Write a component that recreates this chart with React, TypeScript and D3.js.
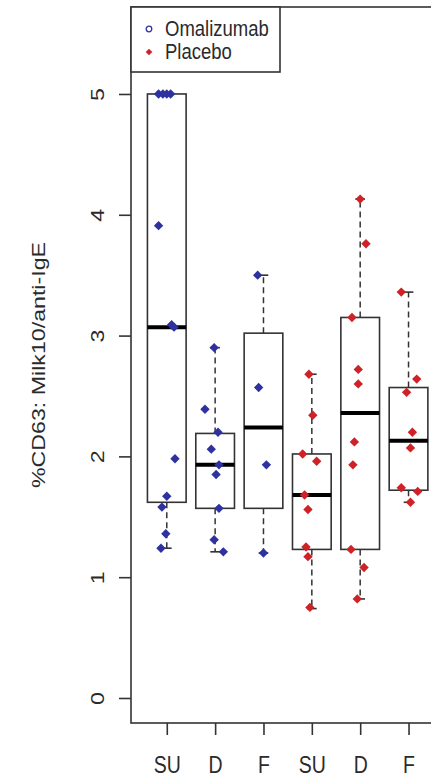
import React, { useEffect, useRef } from "react";
import * as d3 from "d3";

// group labels along x, and the treatment each box belongs to
const labels = ["SU", "D", "F", "SU", "D", "F"];
const treatment = ["Omalizumab", "Omalizumab", "Omalizumab", "Placebo", "Placebo", "Placebo"];

// box statistics
const whiskerLow = [1.24, 1.21, 1.2, 0.74, 0.82, 1.62];
const q1 = [1.62, 1.57, 1.57, 1.23, 1.23, 1.72];
const median = [3.07, 1.93, 2.24, 1.68, 2.36, 2.13];
const q3 = [5.0, 2.19, 3.02, 2.02, 3.15, 2.57];
const whiskerHigh = [5.0, 2.9, 3.5, 2.68, 4.13, 3.36];

// raw points per box
const pointValues = [
  [5.0, 5.0, 5.0, 5.0, 3.91, 3.09, 3.07, 1.98, 1.67, 1.58, 1.36, 1.24],
  [2.9, 2.39, 2.2, 2.06, 1.93, 1.85, 1.57, 1.31, 1.21],
  [3.5, 2.57, 1.93, 1.2],
  [2.68, 2.34, 2.02, 1.96, 1.68, 1.56, 1.25, 1.17, 0.75],
  [4.13, 3.76, 3.15, 2.72, 2.6, 2.12, 1.93, 1.23, 1.08, 0.82],
  [3.36, 2.64, 2.53, 2.2, 2.07, 1.74, 1.71, 1.62],
];
// horizontal jitter of each point, in group units
const pointJitter = [
  [-0.17, -0.08, 0.0, 0.08, -0.17, 0.1, 0.15, 0.17, 0.0, -0.1, -0.02, -0.12],
  [-0.02, -0.21, 0.06, -0.08, 0.08, 0.02, 0.08, -0.02, 0.17],
  [-0.12, -0.1, 0.06, 0.0],
  [-0.06, 0.02, -0.19, 0.1, -0.15, -0.08, -0.12, -0.08, -0.04],
  [0.0, 0.12, -0.17, -0.04, -0.04, -0.12, -0.15, -0.19, 0.08, -0.06],
  [-0.15, 0.17, -0.04, 0.08, 0.04, -0.15, 0.19, 0.04],
];

const yTicks = [0, 1, 2, 3, 4, 5];
const legendItems = ["Omalizumab", "Placebo"];

const width = 431;
const height = 777;
const colors = { Omalizumab: "#2d32a0", Placebo: "#cc2228" };
const ink = "#2a2a2a";
const font = "'Liberation Sans', Arial, sans-serif";
const stretch = 1.22; // the picture is a bit taller than it is wide

export default function App() {
  const ref = useRef<SVGSVGElement>(null);

  useEffect(() => {
    const svg = d3.select(ref.current);
    svg.selectAll("*").remove();

    const x = d3.scaleLinear().domain([0.26, 6.74]).range([131, 131 + 6.48 * 48.35]);
    const y = d3.scaleLinear().domain([-0.207, 5.72]).range([723, 7]);
    const [left] = x.range();
    const [bottom, top] = y.range();
    const unit = x(1) - x(0);

    // plot frame
    svg
      .append("rect")
      .attr("x", left)
      .attr("y", top)
      .attr("width", x.range()[1] - left)
      .attr("height", bottom - top)
      .attr("fill", "none")
      .attr("stroke", "#333")
      .attr("stroke-width", 1.6);

    // y axis
    svg
      .append("g")
      .attr("transform", `translate(${left},0)`)
      .style("color", "#333")
      .call(d3.axisLeft(y).tickValues(yTicks).tickSize(12).tickFormat(d3.format("d")))
      .call((g) => g.select(".domain").remove())
      .call((g) => g.selectAll("line").attr("stroke-width", 1.6))
      .selectAll("text")
      .attr("x", 0)
      .attr("dy", 0)
      .attr("text-anchor", "middle")
      .attr("transform", `translate(-27.5,0) rotate(-90) scale(${stretch},1)`)
      .attr("fill", ink)
      .attr("font-family", font)
      .attr("font-size", 19);

    // x axis
    svg
      .append("g")
      .attr("transform", `translate(0,${bottom})`)
      .style("color", "#333")
      .call(
        d3
          .axisBottom(x)
          .tickValues(labels.map((_, i) => i + 1))
          .tickSize(12)
          .tickFormat((d) => labels[+d - 1])
      )
      .call((g) => g.select(".domain").remove())
      .call((g) => g.selectAll("line").attr("stroke-width", 1.6))
      .selectAll("text")
      .attr("y", 0)
      .attr("dy", 0)
      .attr("transform", `translate(0,50) scale(1,${stretch})`)
      .attr("fill", ink)
      .attr("font-family", font)
      .attr("font-size", 19.5);

    // y axis title
    svg
      .append("text")
      .attr("transform", `translate(45,${(top + bottom) / 2}) rotate(-90) scale(${stretch},1)`)
      .attr("text-anchor", "middle")
      .attr("fill", ink)
      .attr("font-family", font)
      .attr("font-size", 19)
      .text("%CD63: Milk10/anti-IgE");

    // boxes
    const boxes = svg
      .append("g")
      .selectAll("g")
      .data(labels.map((_, i) => i))
      .enter()
      .append("g");

    const half = 0.4 * unit;
    const staple = 0.2 * unit;

    boxes
      .append("line")
      .attr("x1", (i) => x(i + 1))
      .attr("x2", (i) => x(i + 1))
      .attr("y1", (i) => y(q3[i]))
      .attr("y2", (i) => y(whiskerHigh[i]))
      .attr("stroke", "#333")
      .attr("stroke-width", 1.5)
      .attr("stroke-dasharray", "6,4");
    boxes
      .append("line")
      .attr("x1", (i) => x(i + 1))
      .attr("x2", (i) => x(i + 1))
      .attr("y1", (i) => y(q1[i]))
      .attr("y2", (i) => y(whiskerLow[i]))
      .attr("stroke", "#333")
      .attr("stroke-width", 1.5)
      .attr("stroke-dasharray", "6,4");
    boxes
      .selectAll(".staple")
      .data((i) => [
        [i, whiskerHigh[i]],
        [i, whiskerLow[i]],
      ])
      .enter()
      .append("line")
      .attr("class", "staple")
      .attr("x1", (d) => x(d[0] + 1) - staple / 2)
      .attr("x2", (d) => x(d[0] + 1) + staple / 2)
      .attr("y1", (d) => y(d[1]))
      .attr("y2", (d) => y(d[1]))
      .attr("stroke", "#333")
      .attr("stroke-width", 1.6);
    boxes
      .append("rect")
      .attr("x", (i) => x(i + 1) - half)
      .attr("width", 2 * half)
      .attr("y", (i) => y(q3[i]))
      .attr("height", (i) => y(q1[i]) - y(q3[i]))
      .attr("fill", "white")
      .attr("stroke", "#333")
      .attr("stroke-width", 1.6);
    boxes
      .append("line")
      .attr("x1", (i) => x(i + 1) - half)
      .attr("x2", (i) => x(i + 1) + half)
      .attr("y1", (i) => y(median[i]))
      .attr("y2", (i) => y(median[i]))
      .attr("stroke", "#000")
      .attr("stroke-width", 4);

    // jittered points on top
    const diamond = d3.symbol(d3.symbolSquare, 44);
    const pts = pointValues.flatMap((vals, i) =>
      vals.map((v, j) => ({ i, v, dx: pointJitter[i][j] }))
    );
    svg
      .append("g")
      .selectAll("path")
      .data(pts)
      .enter()
      .append("path")
      .attr("d", diamond())
      .attr("transform", (d) => `translate(${x(d.i + 1 + d.dx)},${y(d.v)}) rotate(45)`)
      .attr("fill", (d) => colors[treatment[d.i] as keyof typeof colors]);

    // legend
    const lg = svg.append("g").attr("transform", `translate(${left},${top})`);
    lg.append("rect")
      .attr("width", 149)
      .attr("height", 65)
      .attr("fill", "white")
      .attr("stroke", "#333")
      .attr("stroke-width", 1.6);
    const row = lg
      .selectAll(".item")
      .data(legendItems)
      .enter()
      .append("g")
      .attr("class", "item")
      .attr("transform", (_, k) => `translate(0,${22 + k * 23})`);
    row
      .filter((d) => d === "Omalizumab")
      .append("circle")
      .attr("cx", 18)
      .attr("r", 2.8)
      .attr("fill", "none")
      .attr("stroke", colors.Omalizumab)
      .attr("stroke-width", 1.3);
    row
      .filter((d) => d === "Placebo")
      .append("path")
      .attr("d", d3.symbol(d3.symbolSquare, 22)())
      .attr("transform", "translate(18,0) rotate(45)")
      .attr("fill", colors.Placebo);
    row
      .append("text")
      .attr("transform", `translate(34,6.5) scale(1,${stretch})`)
      .attr("fill", ink)
      .attr("font-family", font)
      .attr("font-size", 18.5)
      .text((d) => d);
  }, []);

  return (
    <svg
      ref={ref}
      width={width}
      height={height}
      viewBox={`0 0 ${width} ${height}`}
      style={{ position: "absolute", left: 0, top: 0, background: "white" }}
    />
  );
}
